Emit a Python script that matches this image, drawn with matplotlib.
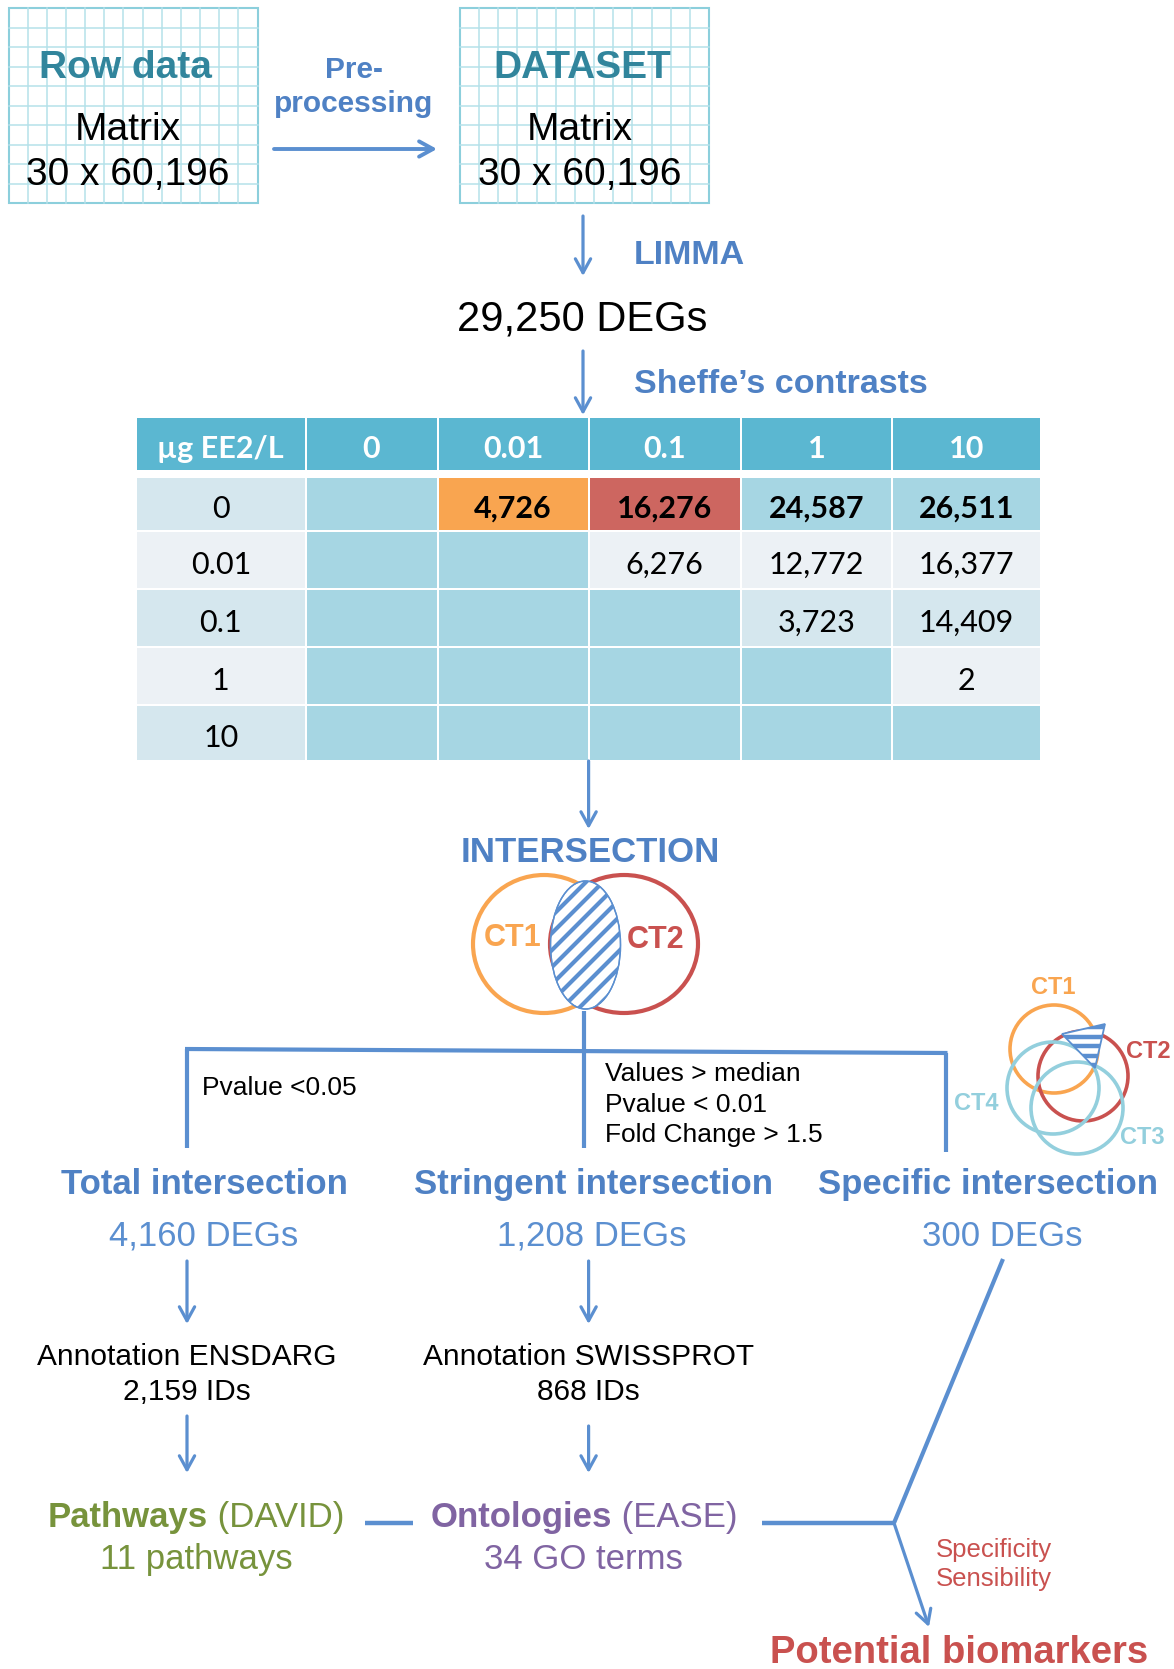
import numpy as np
import matplotlib.pyplot as plt
from matplotlib.patches import Rectangle, Ellipse, Circle, Polygon

# ---- values ----
matrix_shape = (30, 60196)
limma_degs = 29250
doses = ['0', '0.01', '0.1', '1', '10']
contrast_degs = [
    [None, 4726, 16276, 24587, 26511],
    [None, None, 6276, 12772, 16377],
    [None, None, None, 3723, 14409],
    [None, None, None, None, 2],
    [None, None, None, None, None],
]
total_criterion = 'Pvalue <0.05'
stringent_criteria = ['Values > median', 'Pvalue < 0.01', 'Fold Change > 1.5']
branch_titles = ['Total intersection', 'Stringent intersection', 'Specific intersection']
branch_degs = [4160, 1208, 300]
annotation_names = ['ENSDARG', 'SWISSPROT']
annotation_ids = [2159, 868]
pathway_count = 11
go_term_count = 34

# ---- colours ----
BLUE = '#5b8fd0'
BLUE_TXT = '#4f81c4'
TEAL = '#31859c'
ORANGE = '#f9a550'
RED = '#c9514f'
CYAN = '#93cfdd'
GREEN = '#77933c'
PURPLE = '#8064a2'
HEAD = '#5bb7d1'
EMPTY = '#a6d6e3'
STRIPE = ['#d5e7ee', '#ecf1f5']

plt.rcParams['font.family'] = ['Liberation Sans', 'DejaVu Sans']
DY = 4  # nudge text down a bit, va='center' sits slightly high

fig = plt.figure(figsize=(11.74, 16.69), dpi=100)
ax = fig.add_axes([0, 0, 1, 1])
ax.set_xlim(0, 1174)
ax.set_ylim(1669, 0)
ax.axis('off')


def txt(x, y, s, **kw):
    kw.setdefault('ha', 'center')
    kw.setdefault('va', 'center')
    return ax.text(x, y + DY, s, **kw)


def arrow(x0, y0, x1, y1, lw=2.3):
    ax.annotate('', xy=(x1, y1), xytext=(x0, y0),
                arrowprops=dict(arrowstyle='->,head_length=1.0,head_width=0.55',
                                color=BLUE, lw=lw, shrinkA=0, shrinkB=0,
                                mutation_scale=10))


def line(x0, y0, x1, y1, lw=3):
    ax.plot([x0, x1], [y0, y1], color=BLUE, lw=lw, solid_capstyle='butt')


def grid_box(x0, y0, w, h, title, title_dx):
    ax.add_patch(Rectangle((x0, y0), w, h, facecolor='white', edgecolor='#8ccfdc', lw=1.5))
    for gx in np.linspace(x0, x0 + w, 14)[1:-1]:
        ax.plot([gx, gx], [y0, y0 + h], color='#b5e1ea', lw=1.1)
    for gy in np.linspace(y0, y0 + h, 11)[1:-1]:
        ax.plot([x0, x0 + w], [gy, gy], color='#b5e1ea', lw=1.1)
    cx = x0 + w / 2
    txt(cx + title_dx, y0 + 56, title, fontsize=28, fontweight='bold', color=TEAL)
    txt(cx - 5, y0 + 118, 'Matrix', fontsize=28)
    txt(cx - 5, y0 + 163, f'{matrix_shape[0]} x {matrix_shape[1]:,}', fontsize=28)


# ---- top: raw data -> dataset ----
grid_box(8.5, 8.5, 249, 195, 'Row data', -8)
grid_box(460, 8.5, 249, 195, 'DATASET', -2)
txt(354, 66, 'Pre-', fontsize=21.5, fontweight='bold', color=BLUE_TXT)
txt(354, 100, 'processing', fontsize=21.5, fontweight='bold', color=BLUE_TXT)
arrow(274, 149, 437, 149, lw=2.8)

arrow(583, 216, 583, 276)
txt(634, 252, 'LIMMA', ha='left', fontsize=24.5, fontweight='bold', color=BLUE_TXT)
txt(582, 316, f'{limma_degs:,} DEGs', fontsize=30)
arrow(583, 351, 583, 415)
txt(634, 380, 'Sheffe\u2019s contrasts', ha='left', fontsize=24.5,
    fontweight='bold', color=BLUE_TXT)

# ---- contrast table ----
col_edges = [136, 305.5, 437.5, 588.7, 740.9, 892, 1041]
row_edges = [477, 531, 589, 647, 705, 761]
tfont = ['Lato', 'DejaVu Sans']
g = 1.0
for c in range(6):
    x0, x1 = col_edges[c] + g, col_edges[c + 1] - g
    ax.add_patch(Rectangle((x0, 418), x1 - x0, 52, facecolor=HEAD, edgecolor='none'))
    label = '\u00b5g EE2/L' if c == 0 else doses[c - 1]
    txt((x0 + x1) / 2, 445, label, fontsize=22, fontweight='bold',
        color='white', family=tfont)

for r in range(5):
    y0, y1 = row_edges[r] + g, row_edges[r + 1] - g
    stripe = STRIPE[r % 2]
    for c in range(6):
        x0, x1 = col_edges[c] + g, col_edges[c + 1] - g
        if c == 0:
            fc, label = stripe, doses[r]
        else:
            v = contrast_degs[r][c - 1]
            label = '' if v is None else f'{v:,}'
            if v is None:
                fc = EMPTY
            elif r == 0:
                fc = {1: ORANGE, 2: '#cd6660'}.get(c - 1, EMPTY)
            else:
                fc = stripe
        ax.add_patch(Rectangle((x0, y0), x1 - x0, y1 - y0, facecolor=fc, edgecolor='none'))
        if label:
            txt((x0 + x1) / 2, (y0 + y1) / 2 + 1, label, fontsize=22, family=tfont,
                fontweight='bold' if (r == 0 and c > 0) else 'normal')

# ---- intersection ----
arrow(588.6, 761, 588.6, 829)
txt(590.7, 848, 'INTERSECTION', fontsize=25, fontweight='bold', color=BLUE_TXT)

ax.add_patch(Ellipse((544, 944), 142, 138, facecolor='none', edgecolor=ORANGE, lw=3))
ax.add_patch(Ellipse((624, 944), 148, 138, facecolor='none', edgecolor=RED, lw=3))
lens = Ellipse((585.5, 945), 70, 128, facecolor='white', edgecolor=BLUE, lw=1)
ax.add_patch(lens)
for c0 in np.arange(1400, 1680, 17):
    ln, = ax.plot([500, 700], [c0 - 500, c0 - 700], color=BLUE, lw=3)
    ln.set_clip_path(lens)
ax.add_patch(Ellipse((585.5, 945), 70, 128, facecolor='none', edgecolor=BLUE, lw=1))
txt(513, 934, 'CT1', fontsize=22, fontweight='bold', color=ORANGE)
txt(656, 936, 'CT2', fontsize=22, fontweight='bold', color=RED)

# small four-set venn
ax.add_patch(Circle((1054, 1049), 44, facecolor='none', edgecolor=ORANGE, lw=2.6))
ax.add_patch(Circle((1083, 1076), 45, facecolor='none', edgecolor=RED, lw=2.6))
ax.add_patch(Circle((1053, 1088), 46, facecolor='none', edgecolor=CYAN, lw=2.6))
ax.add_patch(Circle((1077, 1108), 46, facecolor='none', edgecolor=CYAN, lw=2.6))
tri_pts = [(1062, 1034), (1105, 1024), (1095, 1068)]
tri = Polygon(tri_pts, closed=True, facecolor='white', edgecolor='none')
ax.add_patch(tri)
for yy in np.arange(1027, 1070, 9.5):
    ln, = ax.plot([1055, 1110], [yy, yy], color=BLUE, lw=3.2)
    ln.set_clip_path(tri)
ax.add_patch(Polygon(tri_pts, closed=True, facecolor='none', edgecolor=BLUE, lw=1.3))
txt(1053, 983, 'CT1', fontsize=17, fontweight='bold', color=ORANGE)
txt(1148, 1047, 'CT2', fontsize=17, fontweight='bold', color=RED)
txt(1142, 1133, 'CT3', fontsize=17, fontweight='bold', color=CYAN)
txt(976, 1099, 'CT4', fontsize=17, fontweight='bold', color=CYAN)

# ---- branches ----
line(584, 1011, 584, 1148)
line(185, 1049, 947.5, 1053)
line(187, 1049, 187, 1148)
line(946, 1053, 946, 1152)
txt(202, 1084, total_criterion, ha='left', fontsize=19)
for i, s in enumerate(stringent_criteria):
    txt(605, 1070 + i * 30.5, s, ha='left', fontsize=19)

branch_x = [204, 593, 988]
deg_x = [204, 592, 1002]
for i in range(3):
    txt(branch_x[i], 1180, branch_titles[i], fontsize=25, fontweight='bold', color=BLUE_TXT)
    txt(deg_x[i], 1232, f'{branch_degs[i]:,} DEGs', fontsize=25, color=BLUE)

ann_x = [187, 588.6]
for i in range(2):
    arrow(ann_x[i], 1261, ann_x[i], 1324)
    txt(ann_x[i], 1353, f'Annotation {annotation_names[i]}', fontsize=21.5)
    txt(ann_x[i], 1388, f'{annotation_ids[i]:,} IDs', fontsize=21.5)
arrow(187, 1416, 187, 1473)
arrow(588.6, 1426, 588.6, 1473)

# pathways / ontologies
t1 = txt(48, 1513, 'Pathways', ha='left', fontsize=25, fontweight='bold', color=GREEN)
ax.annotate(' (DAVID)', xy=(1, 0), xycoords=t1, ha='left', va='bottom', fontsize=25, color=GREEN)
txt(196, 1555, f'{pathway_count} pathways', fontsize=25, color=GREEN)
t2 = txt(431, 1513, 'Ontologies', ha='left', fontsize=25, fontweight='bold', color=PURPLE)
ax.annotate(' (EASE)', xy=(1, 0), xycoords=t2, ha='left', va='bottom', fontsize=25, color=PURPLE)
txt(583, 1555, f'{go_term_count} GO terms', fontsize=25, color=PURPLE)

line(365, 1523, 413, 1523, lw=3.2)
line(762, 1523, 894, 1523, lw=3.2)
line(1003, 1259, 894, 1523, lw=3)
arrow(894, 1523, 929, 1627)
txt(936, 1546, 'Specificity', ha='left', fontsize=18.5, color=RED)
txt(936, 1575, 'Sensibility', ha='left', fontsize=18.5, color=RED)
txt(959, 1649, 'Potential biomarkers', fontsize=27.5, fontweight='bold', color=RED)

fig.savefig('out.png', dpi=100, facecolor='white')
